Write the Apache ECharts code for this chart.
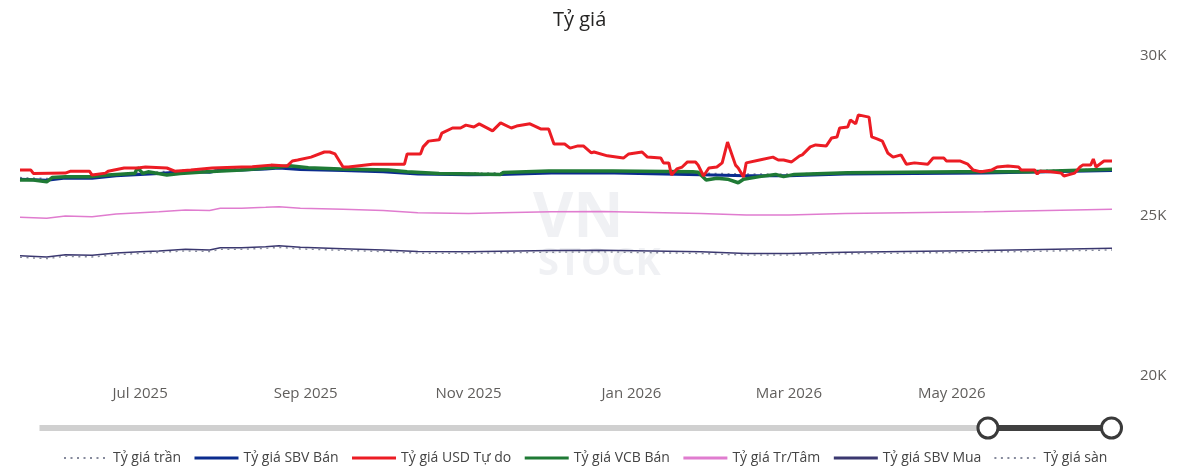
<!DOCTYPE html>
<html>
<head>
<meta charset="utf-8">
<title>Tỷ giá</title>
<script src="https://cdn.jsdelivr.net/npm/echarts@6/dist/echarts.min.js"></script>
<style>
  html, body { margin: 0; padding: 0; background: #fff; }
  #main { width: 1200px; height: 470px; }
</style>
</head>
<body>
<div id="main"></div>
<script>
// ---- data ----
var legendNames = ['Tỷ giá trần', 'Tỷ giá SBV Bán', 'Tỷ giá USD Tự do', 'Tỷ giá VCB Bán', 'Tỷ giá Tr/Tâm', 'Tỷ giá SBV Mua', 'Tỷ giá sàn'];
var yTicks = [20000, 25000, 30000];

// cac duong "muot": trần, SBV Bán, Tr/Tâm, SBV Mua, sàn
var smoothDates = ['2025-05-17', '2025-05-27', '2025-06-03', '2025-06-13', '2025-06-22', '2025-07-01', '2025-07-08',
  '2025-07-18', '2025-07-27', '2025-07-31', '2025-08-08', '2025-08-17', '2025-08-22', '2025-08-30', '2025-09-15',
  '2025-09-30', '2025-10-13', '2025-11-01', '2025-11-13', '2025-12-02', '2025-12-21', '2026-01-27', '2026-02-13',
  '2026-03-01', '2026-03-22', '2026-05-13', '2026-06-30'];
var ceilingRate = [26200, 26170, 26240, 26230, 26310, 26350, 26380, 26440, 26420, 26490, 26490, 26520, 26550, 26500,
  26470, 26430, 26360, 26340, 26350, 26390, 26400, 26340, 26310, 26310, 26360, 26390, 26470];
var sbvSell = [26150, 26120, 26190, 26180, 26260, 26300, 26330, 26390, 26370, 26440, 26440, 26470, 26500, 26450,
  26420, 26380, 26310, 26290, 26300, 26340, 26350, 26290, 26260, 26260, 26310, 26340, 26420];
var centralRate = [24960, 24930, 25000, 24980, 25060, 25100, 25130, 25190, 25170, 25240, 25240, 25270, 25290, 25240,
  25210, 25170, 25100, 25080, 25100, 25130, 25140, 25080, 25030, 25030, 25080, 25130, 25210];
var sbvBuy = [23760, 23720, 23790, 23770, 23840, 23880, 23910, 23960, 23940, 24010, 24010, 24040, 24070, 24020,
  23980, 23940, 23890, 23880, 23900, 23920, 23930, 23880, 23830, 23830, 23870, 23920, 23990];
var floorRate = [23710, 23670, 23740, 23720, 23790, 23830, 23860, 23910, 23890, 23960, 23960, 23990, 24020, 23970,
  23930, 23890, 23840, 23830, 23850, 23870, 23880, 23830, 23780, 23780, 23820, 23870, 23940];

// USD tu do
var freeDates = ['2025-05-17', '2025-05-21', '2025-05-22', '2025-06-03', '2025-06-05', '2025-06-12', '2025-06-13',
  '2025-06-18', '2025-06-19', '2025-06-25', '2025-06-30', '2025-07-03', '2025-07-11', '2025-07-14', '2025-07-20',
  '2025-07-28', '2025-08-08', '2025-08-12', '2025-08-19', '2025-08-25', '2025-08-27', '2025-08-29', '2025-09-03',
  '2025-09-08', '2025-09-10', '2025-09-12', '2025-09-15', '2025-09-17', '2025-09-26', '2025-10-08', '2025-10-09',
  '2025-10-14', '2025-10-15', '2025-10-17', '2025-10-21', '2025-10-22', '2025-10-26', '2025-10-29', '2025-10-31',
  '2025-11-03', '2025-11-05', '2025-11-10', '2025-11-13', '2025-11-17', '2025-11-19', '2025-11-24', '2025-11-28',
  '2025-12-01', '2025-12-03', '2025-12-07', '2025-12-09', '2025-12-12', '2025-12-14', '2025-12-17', '2025-12-18',
  '2025-12-23', '2025-12-29', '2025-12-31', '2026-01-05', '2026-01-07', '2026-01-12', '2026-01-13', '2026-01-15',
  '2026-01-16', '2026-01-18', '2026-01-20', '2026-01-22', '2026-01-25', '2026-01-26', '2026-01-28', '2026-01-30',
  '2026-02-02', '2026-02-04', '2026-02-06', '2026-02-09', '2026-02-10', '2026-02-12', '2026-02-13', '2026-02-18',
  '2026-02-23', '2026-02-25', '2026-02-27', '2026-03-02', '2026-03-05', '2026-03-06', '2026-03-09', '2026-03-11',
  '2026-03-15', '2026-03-17', '2026-03-19', '2026-03-20', '2026-03-23', '2026-03-24', '2026-03-26', '2026-03-27',
  '2026-03-31', '2026-04-01', '2026-04-03', '2026-04-05', '2026-04-07', '2026-04-09', '2026-04-12', '2026-04-14',
  '2026-04-17', '2026-04-22', '2026-04-24', '2026-04-28', '2026-04-29', '2026-05-04', '2026-05-07', '2026-05-09',
  '2026-05-12', '2026-05-16', '2026-05-18', '2026-05-22', '2026-05-26', '2026-05-27', '2026-06-01', '2026-06-02',
  '2026-06-03', '2026-06-07', '2026-06-11', '2026-06-12', '2026-06-16', '2026-06-18', '2026-06-19', '2026-06-22',
  '2026-06-23', '2026-06-24', '2026-06-27', '2026-06-30'];
var freeRate = [26440, 26440, 26330, 26340, 26400, 26400, 26280, 26340, 26400, 26500, 26500, 26530, 26500, 26400,
  26440, 26500, 26530, 26540, 26590, 26560, 26720, 26750, 26840, 27000, 27000, 26940, 26530, 26530, 26620, 26620,
  26940, 26940, 27160, 27340, 27380, 27590, 27750, 27750, 27840, 27780, 27880, 27660, 27910, 27750, 27810, 27880,
  27720, 27720, 27250, 27250, 27120, 27190, 27190, 26970, 27000, 26880, 26810, 26940, 27000, 26840, 26810, 26660,
  26660, 26280, 26470, 26530, 26690, 26690, 26590, 26250, 26500, 26530, 26660, 27310, 26590, 26500, 26220, 26660,
  26750, 26840, 26750, 26750, 26690, 26880, 26910, 27160, 27220, 27190, 27440, 27470, 27750, 27780, 28000, 27880,
  28160, 28090, 27470, 27410, 27340, 26970, 26840, 26910, 26620, 26660, 26620, 26810, 26810, 26720, 26720, 26620,
  26440, 26380, 26440, 26530, 26560, 26530, 26440, 26440, 26310, 26400, 26380, 26340, 26250, 26340, 26530, 26590,
  26590, 26780, 26530, 26720, 26720];

// VCB ban
var vcbDates = ['2025-05-17', '2025-05-22', '2025-05-27', '2025-05-29', '2025-06-03', '2025-06-12', '2025-06-19',
  '2025-06-28', '2025-06-29', '2025-06-30', '2025-07-02', '2025-07-04', '2025-07-11', '2025-07-16', '2025-07-26',
  '2025-08-08', '2025-08-19', '2025-08-26', '2025-09-02', '2025-09-14', '2025-10-02', '2025-10-09', '2025-10-21',
  '2025-11-05', '2025-11-13', '2025-11-14', '2025-12-01', '2025-12-25', '2026-01-24', '2026-01-26', '2026-01-29',
  '2026-02-02', '2026-02-06', '2026-02-10', '2026-02-12', '2026-02-18', '2026-02-24', '2026-02-27', '2026-03-03',
  '2026-03-23', '2026-05-04', '2026-05-30', '2026-06-30'];
var vcbSell = [26125, 26125, 26070, 26200, 26230, 26230, 26280, 26330, 26330, 26510, 26330, 26380, 26280, 26330,
  26380, 26440, 26510, 26570, 26510, 26470, 26440, 26380, 26330, 26310, 26300, 26360, 26410, 26410, 26380, 26370,
  26125, 26180, 26150, 26040, 26150, 26230, 26300, 26230, 26300, 26350, 26380, 26380, 26460];

var MONTHS = ['Jan', 'Feb', 'Mar', 'Apr', 'May', 'Jun', 'Jul', 'Aug', 'Sep', 'Oct', 'Nov', 'Dec'];
var FONT = "'Open Sans', 'Noto Sans', sans-serif";

function pairs(dates, vals) {
  return dates.map(function (d, i) { return [d, vals[i]]; });
}

function lineSeries(name, dates, vals, color, width, dash, z) {
  return {
    name: name,
    type: 'line',
    data: pairs(dates, vals),
    symbol: 'none',
    z: z || 2,
    lineStyle: { color: color, width: width, type: dash || 'solid' },
    itemStyle: { color: color }
  };
}

// chu giai: duong cham cho tran/san mong hon
var legendItems = legendNames.map(function (n, i) {
  var dotted = (i === 0 || i === legendNames.length - 1);
  return dotted ? { name: n, lineStyle: { width: 2 } } : { name: n };
});

var myChart = echarts.init(document.getElementById('main'));

var option = {
  backgroundColor: '#fff',
  animation: false,
  title: {
    text: 'Tỷ giá',
    left: 553,
    top: 10,
    padding: 0,
    textStyle: { fontFamily: FONT, fontSize: 20, fontWeight: 'normal', color: '#252423' }
  },
  graphic: [
    { type: 'text', left: 533, top: 188, z: -10, style: { text: 'VN', font: "bold 62px 'Open Sans', sans-serif", fill: '#f0f1f4' } },
    { type: 'text', left: 538, top: 245, z: -10, style: { text: 'STOCK', font: "bold 38px 'Open Sans', sans-serif", fill: '#f0f1f4' } }
  ],
  legend: {
    data: legendItems,
    top: 446,
    left: 58,
    itemWidth: 44,
    itemHeight: 14,
    itemGap: 12,
    itemStyle: { opacity: 0 },
    lineStyle: { width: 3 },
    textStyle: { fontFamily: FONT, fontSize: 14, color: '#444' }
  },
  grid: { left: 20, right: 88, top: 56, bottom: 94 },
  xAxis: [{
    type: 'time',
    min: 'dataMin',
    max: 'dataMax',
    splitNumber: 6,
    axisLine: { show: false },
    axisTick: { show: false },
    splitLine: { show: false },
    axisLabel: {
      margin: 10,
      fontFamily: FONT,
      fontSize: 15,
      color: '#605e5c',
      formatter: function (v) {
        var d = new Date(v);
        if (d.getDate() !== 1 || d.getMonth() % 2 !== 0) return '';
        return MONTHS[d.getMonth()] + ' ' + d.getFullYear();
      }
    }
  }, {
    type: 'time',
    show: false,
    min: 'dataMin',
    max: 'dataMax'
  }],
  yAxis: {
    type: 'value',
    position: 'right',
    min: yTicks[0],
    max: yTicks[yTicks.length - 1],
    interval: 5000,
    axisLine: { show: false },
    axisTick: { show: false },
    splitLine: { show: false },
    axisLabel: {
      margin: 28,
      fontFamily: FONT,
      fontSize: 15,
      color: '#605e5c',
      formatter: function (v) { return (v / 1000) + 'K'; }
    }
  },
  dataZoom: [{
    type: 'slider',
    xAxisIndex: 1,
    start: 88.3,
    end: 100,
    left: 37,
    right: 90,
    top: 425,
    height: 6,
    backgroundColor: '#d0d0d0',
    borderColor: 'transparent',
    borderRadius: 3,
    fillerColor: '#404040',
    showDataShadow: false,
    dataBackground: { lineStyle: { opacity: 0 }, areaStyle: { opacity: 0 } },
    selectedDataBackground: { lineStyle: { opacity: 0 }, areaStyle: { opacity: 0 } },
    handleIcon: 'circle',
    handleSize: 20,
    handleStyle: { color: '#fff', borderColor: '#3a3a3a', borderWidth: 3 },
    moveHandleSize: 0,
    showDetail: false,
    brushSelect: false
  }],
  series: [
    lineSeries(legendNames[0], smoothDates, ceilingRate, '#868a9c', 1.5, [2, 4.5]),
    lineSeries(legendNames[1], smoothDates, sbvSell, '#0b2c8e', 3),
    lineSeries(legendNames[2], freeDates, freeRate, '#ec1c24', 3, null, 4),
    lineSeries(legendNames[3], vcbDates, vcbSell, '#1f7a35', 3.5, null, 3),
    lineSeries(legendNames[4], smoothDates, centralRate, '#e07ccf', 1.5),
    lineSeries(legendNames[5], smoothDates, sbvBuy, '#3b3870', 1.5),
    lineSeries(legendNames[6], smoothDates, floorRate, '#868a9c', 1.5, [2, 4.5]),
    {
      // truc an cho thanh keo
      type: 'line',
      xAxisIndex: 1,
      data: pairs(freeDates, freeRate),
      symbol: 'none',
      silent: true,
      lineStyle: { opacity: 0 }
    }
  ]
};

option && myChart.setOption(option);
</script>
</body>
</html>
